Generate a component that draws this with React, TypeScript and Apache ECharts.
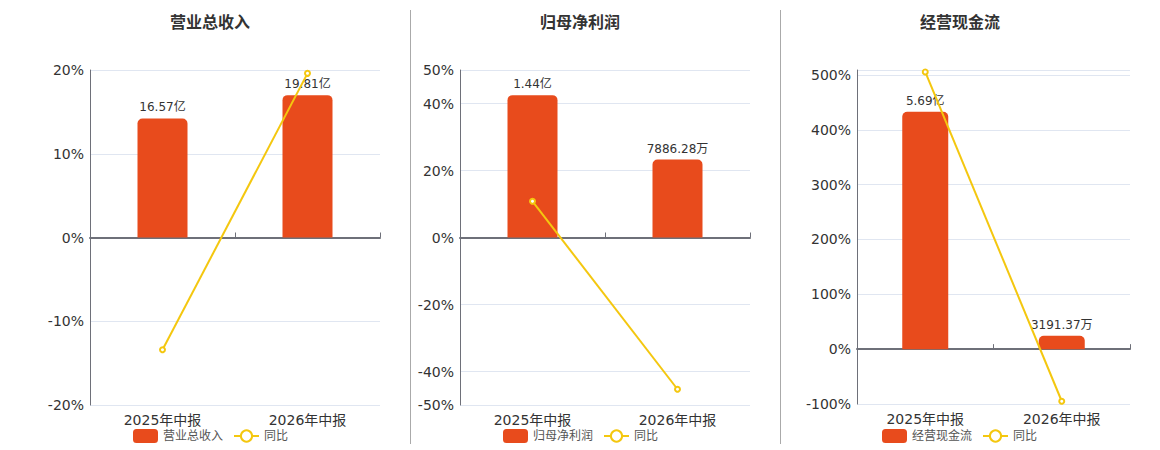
import React, { useEffect, useRef } from "react";
import * as echarts from "echarts";

const categories = ["2025年中报", "2026年中报"];

const panelTitles = ["营业总收入", "归母净利润", "经营现金流"];

// bar values in 亿
const revenueValues = [16.57, 19.81];
const revenueLabels = ["16.57亿", "19.81亿"];
const revenueYoY = [-13.4, 19.6];

const profitValues = [1.44, 0.788628];
const profitLabels = ["1.44亿", "7886.28万"];
const profitYoY = [10.8, -45.3];

const cashValues = [5.69, 0.319137];
const cashLabels = ["5.69亿", "3191.37万"];
const cashYoY = [505.5, -95];

const pctMin = [-20, -50, -100];
const pctMax = [20, 50, 509];
const pctTicks = [
  [-20, -10, 0, 10, 20],
  [-50, -40, -20, 0, 20, 40, 50],
  [-100, 0, 100, 200, 300, 400, 500, 509],
];
const pctLabelTicks = [
  [-20, -10, 0, 10, 20],
  [-50, -40, -20, 0, 20, 40, 50],
  [-100, 0, 100, 200, 300, 400, 500],
];

const BAR_COLOR = "#E84B1C";
const LINE_COLOR = "#F4C70F";
const FONT = 'DejaVu Sans, "Noto Sans CJK SC", sans-serif';

export default function App() {
  const ref = useRef<HTMLDivElement>(null);

  useEffect(() => {
    if (!ref.current) return;
    const chart = echarts.init(ref.current, undefined, { renderer: "svg" });

    const barsets = [revenueValues, profitValues, cashValues];
    const labelsets = [revenueLabels, profitLabels, cashLabels];
    const yoysets = [revenueYoY, profitYoY, cashYoY];

    const grids = [
      { left: 82, top: 62, width: 290, height: 335 },
      { left: 452, top: 62, width: 290, height: 335 },
      { left: 849, top: 62, width: 273, height: 334 },
    ];
    const centers = [202, 572, 952];
    const legendLefts = [125, 495, 874];

    const xAxis: any[] = [];
    const yAxis: any[] = [];
    const series: any[] = [];
    const legend: any[] = [];
    const graphic: any[] = [];

    for (let i = 0; i < 3; i++) {
      xAxis.push({
        type: "category",
        gridIndex: i,
        data: categories,
        position: "bottom",
        axisLine: { show: false, onZero: false },
        axisTick: { show: false },
        axisLabel: { color: "#333", fontSize: 14, margin: 8, fontFamily: FONT },
      });
      xAxis.push({
        type: "category",
        gridIndex: i,
        data: categories,
        axisLine: { show: true, onZero: true, lineStyle: { color: "#6E7079", width: 2 } },
        axisTick: { show: true, lineStyle: { color: "#6E7079" } },
        axisLabel: { show: false },
      });
      const pmin = pctMin[i];
      const pmax = pctMax[i];
      yAxis.push({
        type: "value",
        gridIndex: i,
        min: pmin,
        max: pmax,
        axisLine: { show: true, lineStyle: { color: "#6E7079" } },
        axisTick: { show: false, customValues: pctTicks[i] },
        splitLine: { show: true, lineStyle: { color: "#E0E6F1" } },
        axisLabel: {
          customValues: pctLabelTicks[i],
          color: "#333",
          fontSize: 14,
          margin: 6,
          fontFamily: FONT,
          formatter: (v: number) => v + "%",
        },
      });
      const bmax = Math.max(...barsets[i]) / 0.85;
      const bmin = (bmax * pmin) / pmax;
      yAxis.push({
        type: "value",
        gridIndex: i,
        min: bmin,
        max: bmax,
        show: false,
        splitLine: { show: false },
      });

      const labels = labelsets[i];
      series.push({
        name: panelTitles[i],
        type: "bar",
        xAxisIndex: i * 2,
        yAxisIndex: i * 2 + 1,
        data: barsets[i],
        barWidth: i === 2 ? 46 : 50,
        itemStyle: { color: BAR_COLOR, borderRadius: [5, 5, 0, 0] },
        label: {
          show: true,
          position: "top",
          distance: 5,
          color: "#333",
          fontSize: 12,
          fontFamily: FONT,
          formatter: (p: any) => labels[p.dataIndex],
        },
        z: 2,
      });
      series.push({
        name: "同比",
        type: "line",
        xAxisIndex: i * 2,
        yAxisIndex: i * 2,
        data: yoysets[i],
        symbol: "emptyCircle",
        symbolSize: 5,
        lineStyle: { color: LINE_COLOR, width: 2 },
        itemStyle: { color: LINE_COLOR, borderColor: LINE_COLOR },
        z: 3,
      });

      legend.push({
        left: legendLefts[i],
        top: 421,
        padding: 0,
        itemWidth: 25,
        itemHeight: 14,
        itemGap: 10,
        textStyle: { color: "#555", fontSize: 12, fontFamily: FONT },
        data: [
          { name: panelTitles[i], icon: "roundRect" },
          { name: "同比" },
        ],
      });

      graphic.push({
        type: "text",
        x: centers[i],
        y: 14,
        style: {
          text: panelTitles[i],
          textAlign: "center",
          textVerticalAlign: "middle",
          font: `bold 16px ${FONT}`,
          fill: "#333",
        },
      });
    }

    graphic.push({
      type: "line",
      shape: { x1: 402.5, y1: 2, x2: 402.5, y2: 436 },
      style: { stroke: "#aaa", lineWidth: 1 },
    });
    graphic.push({
      type: "line",
      shape: { x1: 772.5, y1: 2, x2: 772.5, y2: 436 },
      style: { stroke: "#aaa", lineWidth: 1 },
    });

    chart.setOption({
      animation: false,
      textStyle: { fontFamily: FONT },
      grid: grids,
      xAxis,
      yAxis,
      series,
      legend,
      graphic,
    });

    return () => chart.dispose();
  }, []);

  return <div ref={ref} style={{ width: 1144, height: 442 }} />;
}
